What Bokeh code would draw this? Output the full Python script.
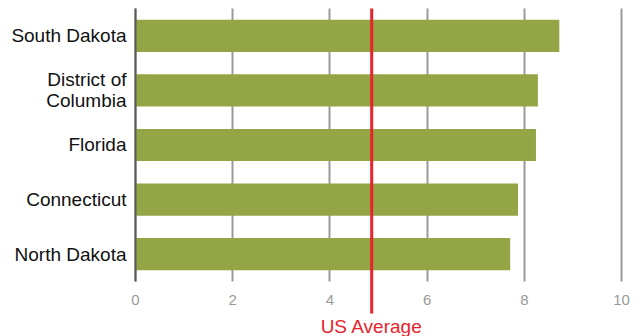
from bokeh.plotting import figure
from bokeh.models import Range1d, Arrow, Label, FixedTicker
from bokeh.embed import file_html
from bokeh.resources import INLINE

states = ["South Dakota", "District of\nColumbia", "Florida", "Connecticut", "North Dakota"]
values = [8.72, 8.28, 8.24, 7.87, 7.71]
us_average = 4.86
x_ticks = [0, 2, 4, 6, 8, 10]

n = len(states)
ys = [n - i - 0.5 for i in range(n)]

p = figure(width=640, height=336, output_backend="svg", toolbar_location=None,
           y_range=Range1d(-1.0073, n + 0.1465), x_range=Range1d(-2.778, 10.391),
           min_border=0, min_border_left=0, min_border_right=0,
           min_border_top=0, min_border_bottom=0)
p.outline_line_color = None
p.background_fill_color = "white"
p.border_fill_color = "white"

p.hbar(y=ys, right=values, left=0, height=0.59, fill_color="#94a545", line_color=None)

# x axis drawn at the bottom of the bars area
p.xaxis.fixed_location = 0
p.xaxis.ticker = FixedTicker(ticks=x_ticks)
p.xaxis.axis_line_color = None
p.xaxis.major_tick_line_color = None
p.xaxis.minor_tick_line_color = None
p.xaxis.major_label_text_color = "#9a9a9a"
p.xaxis.major_label_text_font = "Liberation Sans"
p.xaxis.major_label_text_font_size = "15px"
p.xaxis.major_label_standoff = 7

# y axis with state names, drawn at x = 0
p.yaxis.fixed_location = 0
p.yaxis.ticker = FixedTicker(ticks=ys)
p.yaxis.major_label_overrides = {y: s for y, s in zip(ys, states)}
p.yaxis.bounds = (0, n)
p.yaxis.axis_line_color = "#5a5a5a"
p.yaxis.axis_line_width = 2
p.yaxis.major_tick_line_color = None
p.yaxis.minor_tick_line_color = None
p.yaxis.major_label_text_color = "#111111"
p.yaxis.major_label_text_font = "Liberation Sans"
p.yaxis.major_label_text_font_size = "19px"
p.yaxis.major_label_text_line_height = 1.0
p.yaxis.major_label_text_align = "right"
p.yaxis.major_label_standoff = 3

p.xgrid.ticker = FixedTicker(ticks=x_ticks)
p.xgrid.grid_line_color = "#9a9a9a"
p.xgrid.grid_line_width = 2
p.xgrid.cross_bounds = (0, n)
p.ygrid.grid_line_color = None

avg_line = Arrow(x_start=us_average, y_start=-0.586, x_end=us_average, y_end=n,
                 end=None, line_color="#e8232b", line_width=3)
p.add_layout(avg_line)
p.add_layout(Label(x=us_average, y=-0.82, text="US Average", text_align="center",
                   text_baseline="middle", text_color="#e8232b",
                   text_font="Liberation Sans", text_font_size="19px"))

open("out.html", "w").write(file_html(p, INLINE))
